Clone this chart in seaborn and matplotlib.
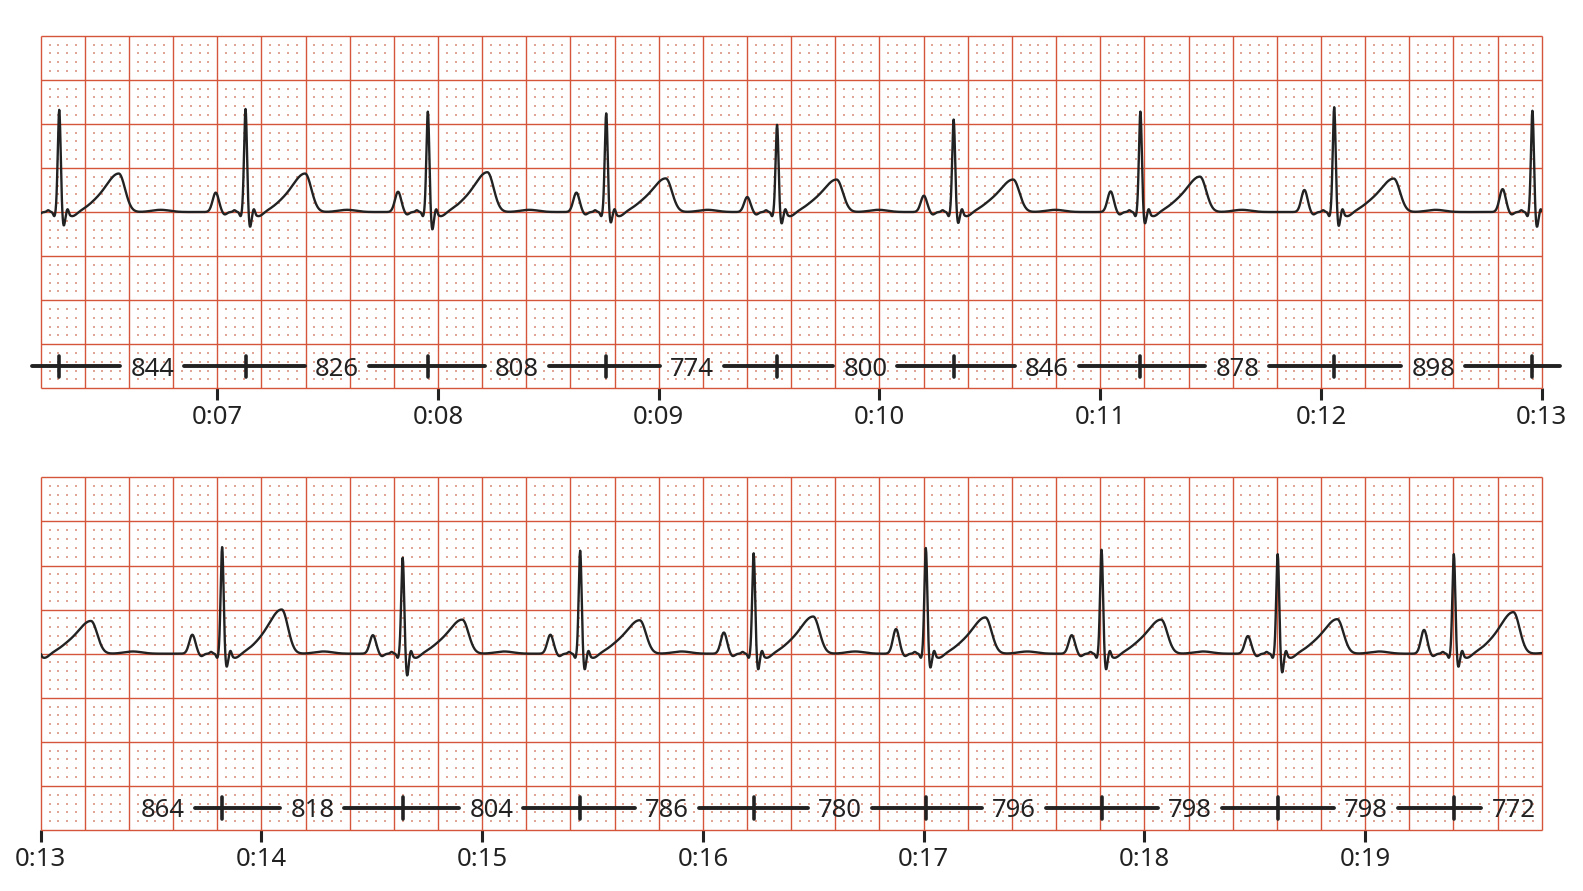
import numpy as np
import pandas as pd
import matplotlib
matplotlib.use("Agg")
import matplotlib.pyplot as plt
from matplotlib.ticker import FuncFormatter
import seaborn as sns

# RR intervals (ms) printed under the strip, in order
rr_ms = [844, 826, 808, 774, 800, 846, 878, 898,
         864, 818, 804, 786, 780, 796, 798, 798, 772]
first_r = 6.284  # s, first R peak on the strip

# per-beat amplitudes (mV)
r_amp = [1.16, 1.17, 1.14, 1.12, 0.99, 1.05, 1.14, 1.19, 1.15,
         1.21, 1.09, 1.17, 1.14, 1.20, 1.18, 1.13, 1.13, 1.15]
s_amp = [-0.155, -0.17, -0.20, -0.12, -0.13, -0.125, -0.13, -0.16, -0.17,
         -0.15, -0.25, -0.18, -0.18, -0.16, -0.18, -0.215, -0.15, -0.15]
p_amp = [0.20, 0.22, 0.23, 0.22, 0.17, 0.185, 0.234, 0.25, 0.26,
         0.215, 0.21, 0.215, 0.24, 0.28, 0.21, 0.20, 0.27, 0.20]
t_amp = [0.435, 0.435, 0.45, 0.38, 0.367, 0.367, 0.40, 0.378, 0.37,
         0.50, 0.385, 0.378, 0.42, 0.41, 0.385, 0.39, 0.47, 0.40]

# the two strips (s)
strips = [(6.2, 13.0), (13.0, 19.8)]

GRID_RED = "#d4553a"
DOT_RED = "#e0a595"
INK = "#222222"

# ---- build trace from beat parameters
r_times = first_r + np.concatenate([[0.0], np.cumsum(rr_ms) / 1000.0])
fs = 500
t = np.arange(strips[0][0], strips[-1][1] + 0.5 / fs, 1.0 / fs)


def bump(x, mu, sig):
    return np.exp(-0.5 * ((x - mu) / sig) ** 2)


def skew_bump(x, mu, sl, sr):
    sig = np.where(x < mu, sl, sr)
    return np.exp(-0.5 * ((x - mu) / sig) ** 2)


ecg = np.zeros_like(t)
for i, r in enumerate(r_times):
    ecg += p_amp[i] * bump(t, r - 0.135, 0.014)
    ecg += -0.03 * bump(t, r - 0.095, 0.01)
    ecg += 0.02 * bump(t, r - 0.05, 0.006)
    ecg += -0.05 * bump(t, r - 0.022, 0.005)
    ecg += r_amp[i] * bump(t, r, 0.0065)
    ecg += s_amp[i] * bump(t, r + 0.02, 0.006)
    ecg += 0.06 * bump(t, r + 0.038, 0.005)
    ecg += -0.05 * bump(t, r + 0.06, 0.02)
    ecg += 0.06 * bump(t, r + 0.16, 0.04)
    ecg += t_amp[i] * skew_bump(t, r + 0.27, 0.06, 0.028)
    ecg += 0.025 * bump(t, r + 0.46, 0.04)

df = pd.DataFrame({"time": t, "mv": ecg})

# ---- figure
sns.set_style("white")
plt.rcParams["font.family"] = ["Noto Sans", "DejaVu Sans"]

fig = plt.figure(figsize=(15.83, 8.91), dpi=100)
ax_top = fig.add_axes([0.0257, 0.5642, 0.9482, 0.3957])
ax_bot = fig.add_axes([0.0257, 0.0685, 0.9482, 0.3957])

rr_y = -1.75
gap = 0.145
side = 0.27

for ax, (x0, x1) in zip([ax_top, ax_bot], strips):
    # paper grid
    n_major = int(round((x1 - x0) / 0.2))
    xs_major = x0 + 0.2 * np.arange(n_major + 1)
    ys_major = np.arange(-2.0, 2.001, 0.5)
    ax.vlines(xs_major, -2, 2, color=GRID_RED, lw=1.0, zorder=1, clip_on=False)
    ax.hlines(ys_major, x0, x1, color=GRID_RED, lw=1.0, zorder=1, clip_on=False)

    n_minor = int(round((x1 - x0) / 0.04))
    ix = np.arange(n_minor + 1)
    iy = np.arange(41)
    xs_minor = x0 + 0.04 * ix[ix % 5 != 0]
    ys_minor = -2.0 + 0.1 * iy[iy % 5 != 0]
    X, Y = np.meshgrid(xs_minor, ys_minor)
    ax.scatter(X.ravel(), Y.ravel(), s=1.5, marker="s", color=DOT_RED,
               linewidths=0, zorder=0.5)

    # trace
    sub = df[(df["time"] >= x0) & (df["time"] <= x1)]
    sns.lineplot(data=sub, x="time", y="mv", ax=ax, color=INK, linewidth=1.7,
                 estimator=None, sort=False, zorder=3)

    # RR markers
    line_kw = dict(color=INK, lw=2.8, solid_capstyle="round", clip_on=False, zorder=4)
    for r in r_times:
        if x0 <= r <= x1:
            ax.plot([r, r], [rr_y - 0.12, rr_y + 0.12], color=INK, lw=2.6,
                    solid_capstyle="round", clip_on=False, zorder=4)
    if x0 <= r_times[0] <= x1:
        ax.plot([r_times[0] - (side - gap), r_times[0]], [rr_y, rr_y], **line_kw)
    for i, ms in enumerate(rr_ms):
        a, b = r_times[i], r_times[i + 1]
        a_in = x0 <= a <= x1
        b_in = x0 <= b <= x1
        if not (a_in or b_in):
            continue
        if a_in and b_in:
            c = (a + b) / 2
        elif b_in:
            c = b - side
        else:
            c = a + side
        if a_in:
            ax.plot([a, c - gap], [rr_y, rr_y], **line_kw)
        if b_in:
            ax.plot([c + gap, b], [rr_y, rr_y], **line_kw)
        if x0 < c < x1:
            ax.text(c, rr_y, str(ms), ha="center", va="center_baseline",
                    fontsize=18.5, color=INK, zorder=5)

    # axes cosmetics
    ax.set_xlim(x0, x1)
    ax.set_ylim(-2, 2)
    ax.set_xticks(np.arange(np.ceil(x0), np.floor(x1) + 1))
    ax.xaxis.set_major_formatter(
        FuncFormatter(lambda v, p: f"{int(v) // 60}:{int(round(v)) % 60:02d}"))
    ax.set_yticks([])
    ax.set_xlabel("")
    ax.set_ylabel("")
    for s in ax.spines.values():
        s.set_visible(False)
    ax.tick_params(axis="x", bottom=True, length=8.5, width=2.2, color=INK,
                   pad=3.5, labelsize=18.5, labelcolor=INK)

fig.savefig("out.png", dpi=100)
